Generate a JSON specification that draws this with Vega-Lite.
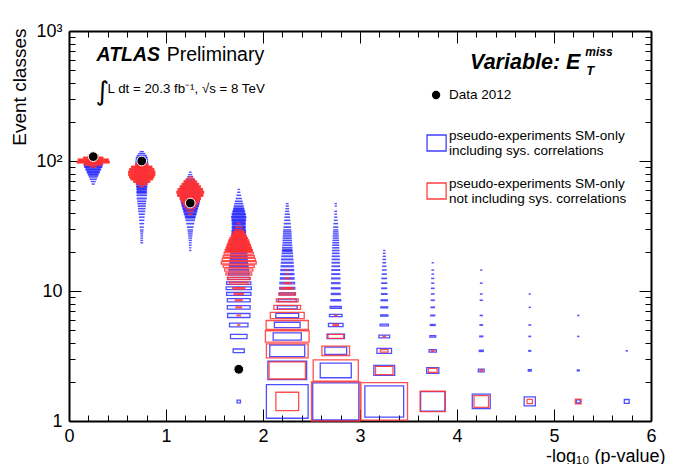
{
"$schema":"https://vega.github.io/schema/vega-lite/v6.json",
"width":582,"height":390,
"autosize":{"type":"none"},
"padding":{"left":69,"top":31,"right":30,"bottom":43},
"background":"white",
"config":{"view":{"stroke":null},"font":"Liberation Sans"},
"datasets":{
"boxes":[
{"s":"incl","x":0.25,"lo":65,"hi":68,"f":0.04},{"s":"incl","x":0.25,"lo":68,"hi":71,"f":0.08},{"s":"incl","x":0.25,"lo":71,"hi":74,"f":0.12},{"s":"incl","x":0.25,"lo":74,"hi":77,"f":0.16},{"s":"incl","x":0.25,"lo":77,"hi":80,"f":0.2},{"s":"incl","x":0.25,"lo":80,"hi":84,"f":0.25},{"s":"incl","x":0.25,"lo":84,"hi":88,"f":0.3},{"s":"incl","x":0.25,"lo":88,"hi":92,"f":0.35},{"s":"incl","x":0.25,"lo":92,"hi":96,"f":0.38},{"s":"incl","x":0.25,"lo":96,"hi":100,"f":0.35},{"s":"incl","x":0.25,"lo":100,"hi":104,"f":0.3},{"s":"incl","x":0.25,"lo":104,"hi":108,"f":0.2},{"s":"incl","x":0.25,"lo":108,"hi":112,"f":0.08},
{"s":"incl","x":0.75,"lo":23,"hi":24,"f":0.03},{"s":"incl","x":0.75,"lo":24,"hi":25,"f":0.03},{"s":"incl","x":0.75,"lo":25,"hi":26,"f":0.03},{"s":"incl","x":0.75,"lo":26,"hi":27,"f":0.03},{"s":"incl","x":0.75,"lo":27,"hi":28,"f":0.03},{"s":"incl","x":0.75,"lo":28,"hi":29,"f":0.04},{"s":"incl","x":0.75,"lo":29,"hi":30,"f":0.05},{"s":"incl","x":0.75,"lo":30,"hi":32,"f":0.06},{"s":"incl","x":0.75,"lo":32,"hi":34,"f":0.07},{"s":"incl","x":0.75,"lo":34,"hi":36,"f":0.08},{"s":"incl","x":0.75,"lo":36,"hi":38,"f":0.09},{"s":"incl","x":0.75,"lo":38,"hi":40,"f":0.1},{"s":"incl","x":0.75,"lo":40,"hi":42,"f":0.12},{"s":"incl","x":0.75,"lo":42,"hi":44,"f":0.13},{"s":"incl","x":0.75,"lo":44,"hi":46,"f":0.14},{"s":"incl","x":0.75,"lo":46,"hi":48,"f":0.15},{"s":"incl","x":0.75,"lo":48,"hi":50,"f":0.16},{"s":"incl","x":0.75,"lo":50,"hi":53,"f":0.18},{"s":"incl","x":0.75,"lo":53,"hi":56,"f":0.19},{"s":"incl","x":0.75,"lo":56,"hi":59,"f":0.2},{"s":"incl","x":0.75,"lo":59,"hi":62,"f":0.2},{"s":"incl","x":0.75,"lo":62,"hi":65,"f":0.21},{"s":"incl","x":0.75,"lo":65,"hi":68,"f":0.22},{"s":"incl","x":0.75,"lo":68,"hi":71,"f":0.23},{"s":"incl","x":0.75,"lo":71,"hi":74,"f":0.24},{"s":"incl","x":0.75,"lo":74,"hi":77,"f":0.25},{"s":"incl","x":0.75,"lo":77,"hi":80,"f":0.25},{"s":"incl","x":0.75,"lo":80,"hi":84,"f":0.25},{"s":"incl","x":0.75,"lo":84,"hi":88,"f":0.25},{"s":"incl","x":0.75,"lo":88,"hi":92,"f":0.25},{"s":"incl","x":0.75,"lo":92,"hi":96,"f":0.25},{"s":"incl","x":0.75,"lo":96,"hi":100,"f":0.24},{"s":"incl","x":0.75,"lo":100,"hi":104,"f":0.23},{"s":"incl","x":0.75,"lo":104,"hi":108,"f":0.22},{"s":"incl","x":0.75,"lo":108,"hi":112,"f":0.18},{"s":"incl","x":0.75,"lo":112,"hi":116,"f":0.12},{"s":"incl","x":0.75,"lo":116,"hi":120,"f":0.06},
{"s":"incl","x":1.25,"lo":20,"hi":21,"f":0.02},{"s":"incl","x":1.25,"lo":21,"hi":22,"f":0.02},{"s":"incl","x":1.25,"lo":22,"hi":23,"f":0.03},{"s":"incl","x":1.25,"lo":23,"hi":24,"f":0.03},{"s":"incl","x":1.25,"lo":24,"hi":25,"f":0.04},{"s":"incl","x":1.25,"lo":25,"hi":26,"f":0.05},{"s":"incl","x":1.25,"lo":26,"hi":27,"f":0.06},{"s":"incl","x":1.25,"lo":27,"hi":28,"f":0.07},{"s":"incl","x":1.25,"lo":28,"hi":29,"f":0.08},{"s":"incl","x":1.25,"lo":29,"hi":30,"f":0.09},{"s":"incl","x":1.25,"lo":30,"hi":32,"f":0.11},{"s":"incl","x":1.25,"lo":32,"hi":34,"f":0.14},{"s":"incl","x":1.25,"lo":34,"hi":36,"f":0.17},{"s":"incl","x":1.25,"lo":36,"hi":38,"f":0.2},{"s":"incl","x":1.25,"lo":38,"hi":40,"f":0.24},{"s":"incl","x":1.25,"lo":40,"hi":42,"f":0.27},{"s":"incl","x":1.25,"lo":42,"hi":44,"f":0.3},{"s":"incl","x":1.25,"lo":44,"hi":46,"f":0.33},{"s":"incl","x":1.25,"lo":46,"hi":48,"f":0.36},{"s":"incl","x":1.25,"lo":48,"hi":50,"f":0.38},{"s":"incl","x":1.25,"lo":50,"hi":53,"f":0.4},{"s":"incl","x":1.25,"lo":53,"hi":56,"f":0.4},{"s":"incl","x":1.25,"lo":56,"hi":59,"f":0.38},{"s":"incl","x":1.25,"lo":59,"hi":62,"f":0.34},{"s":"incl","x":1.25,"lo":62,"hi":65,"f":0.3},{"s":"incl","x":1.25,"lo":65,"hi":68,"f":0.25},{"s":"incl","x":1.25,"lo":68,"hi":71,"f":0.2},{"s":"incl","x":1.25,"lo":71,"hi":74,"f":0.15},{"s":"incl","x":1.25,"lo":74,"hi":77,"f":0.1},{"s":"incl","x":1.25,"lo":77,"hi":80,"f":0.06},{"s":"incl","x":1.25,"lo":80,"hi":84,"f":0.03},
{"s":"incl","x":1.75,"lo":1,"hi":2,"f":0.07},{"s":"incl","x":1.75,"lo":2,"hi":3,"f":0.1},{"s":"incl","x":1.75,"lo":3,"hi":4,"f":0.23},{"s":"incl","x":1.75,"lo":4,"hi":5,"f":0.34},{"s":"incl","x":1.75,"lo":5,"hi":6,"f":0.38},{"s":"incl","x":1.75,"lo":6,"hi":7,"f":0.46},{"s":"incl","x":1.75,"lo":7,"hi":8,"f":0.47},{"s":"incl","x":1.75,"lo":8,"hi":9,"f":0.47},{"s":"incl","x":1.75,"lo":9,"hi":10,"f":0.5},{"s":"incl","x":1.75,"lo":10,"hi":11,"f":0.52},{"s":"incl","x":1.75,"lo":11,"hi":12,"f":0.5},{"s":"incl","x":1.75,"lo":12,"hi":13,"f":0.45},{"s":"incl","x":1.75,"lo":13,"hi":14,"f":0.42},{"s":"incl","x":1.75,"lo":14,"hi":15,"f":0.4},{"s":"incl","x":1.75,"lo":15,"hi":16,"f":0.38},{"s":"incl","x":1.75,"lo":16,"hi":17,"f":0.36},{"s":"incl","x":1.75,"lo":17,"hi":18,"f":0.35},{"s":"incl","x":1.75,"lo":18,"hi":19,"f":0.34},{"s":"incl","x":1.75,"lo":19,"hi":20,"f":0.33},{"s":"incl","x":1.75,"lo":20,"hi":21,"f":0.32},{"s":"incl","x":1.75,"lo":21,"hi":22,"f":0.31},{"s":"incl","x":1.75,"lo":22,"hi":23,"f":0.3},{"s":"incl","x":1.75,"lo":23,"hi":24,"f":0.3},{"s":"incl","x":1.75,"lo":24,"hi":25,"f":0.29},{"s":"incl","x":1.75,"lo":25,"hi":26,"f":0.29},{"s":"incl","x":1.75,"lo":26,"hi":27,"f":0.28},{"s":"incl","x":1.75,"lo":27,"hi":28,"f":0.28},{"s":"incl","x":1.75,"lo":28,"hi":29,"f":0.28},{"s":"incl","x":1.75,"lo":29,"hi":30,"f":0.27},{"s":"incl","x":1.75,"lo":30,"hi":32,"f":0.27},{"s":"incl","x":1.75,"lo":32,"hi":34,"f":0.27},{"s":"incl","x":1.75,"lo":34,"hi":36,"f":0.28},{"s":"incl","x":1.75,"lo":36,"hi":38,"f":0.29},{"s":"incl","x":1.75,"lo":38,"hi":40,"f":0.27},{"s":"incl","x":1.75,"lo":40,"hi":42,"f":0.24},{"s":"incl","x":1.75,"lo":42,"hi":44,"f":0.21},{"s":"incl","x":1.75,"lo":44,"hi":46,"f":0.18},{"s":"incl","x":1.75,"lo":46,"hi":48,"f":0.16},{"s":"incl","x":1.75,"lo":48,"hi":50,"f":0.13},{"s":"incl","x":1.75,"lo":50,"hi":53,"f":0.1},{"s":"incl","x":1.75,"lo":53,"hi":56,"f":0.07},{"s":"incl","x":1.75,"lo":56,"hi":59,"f":0.04},{"s":"incl","x":1.75,"lo":59,"hi":62,"f":0.02},
{"s":"incl","x":2.25,"lo":1,"hi":2,"f":0.86},{"s":"incl","x":2.25,"lo":2,"hi":3,"f":0.8},{"s":"incl","x":2.25,"lo":3,"hi":4,"f":0.72},{"s":"incl","x":2.25,"lo":4,"hi":5,"f":0.58},{"s":"incl","x":2.25,"lo":5,"hi":6,"f":0.53},{"s":"incl","x":2.25,"lo":6,"hi":7,"f":0.47},{"s":"incl","x":2.25,"lo":7,"hi":8,"f":0.41},{"s":"incl","x":2.25,"lo":8,"hi":9,"f":0.37},{"s":"incl","x":2.25,"lo":9,"hi":10,"f":0.33},{"s":"incl","x":2.25,"lo":10,"hi":11,"f":0.31},{"s":"incl","x":2.25,"lo":11,"hi":12,"f":0.3},{"s":"incl","x":2.25,"lo":12,"hi":13,"f":0.28},{"s":"incl","x":2.25,"lo":13,"hi":14,"f":0.27},{"s":"incl","x":2.25,"lo":14,"hi":15,"f":0.26},{"s":"incl","x":2.25,"lo":15,"hi":16,"f":0.25},{"s":"incl","x":2.25,"lo":16,"hi":17,"f":0.24},{"s":"incl","x":2.25,"lo":17,"hi":18,"f":0.23},{"s":"incl","x":2.25,"lo":18,"hi":19,"f":0.22},{"s":"incl","x":2.25,"lo":19,"hi":20,"f":0.21},{"s":"incl","x":2.25,"lo":20,"hi":21,"f":0.2},{"s":"incl","x":2.25,"lo":21,"hi":22,"f":0.19},{"s":"incl","x":2.25,"lo":22,"hi":23,"f":0.18},{"s":"incl","x":2.25,"lo":23,"hi":24,"f":0.17},{"s":"incl","x":2.25,"lo":24,"hi":25,"f":0.17},{"s":"incl","x":2.25,"lo":25,"hi":26,"f":0.16},{"s":"incl","x":2.25,"lo":26,"hi":27,"f":0.16},{"s":"incl","x":2.25,"lo":27,"hi":28,"f":0.15},{"s":"incl","x":2.25,"lo":28,"hi":29,"f":0.15},{"s":"incl","x":2.25,"lo":29,"hi":30,"f":0.14},{"s":"incl","x":2.25,"lo":30,"hi":32,"f":0.13},{"s":"incl","x":2.25,"lo":32,"hi":34,"f":0.12},{"s":"incl","x":2.25,"lo":34,"hi":36,"f":0.1},{"s":"incl","x":2.25,"lo":36,"hi":38,"f":0.09},{"s":"incl","x":2.25,"lo":38,"hi":40,"f":0.08},{"s":"incl","x":2.25,"lo":40,"hi":42,"f":0.06},{"s":"incl","x":2.25,"lo":42,"hi":44,"f":0.05},{"s":"incl","x":2.25,"lo":44,"hi":46,"f":0.04},{"s":"incl","x":2.25,"lo":46,"hi":48,"f":0.03},
{"s":"incl","x":2.75,"lo":1,"hi":2,"f":0.95},{"s":"incl","x":2.75,"lo":2,"hi":3,"f":0.64},{"s":"incl","x":2.75,"lo":3,"hi":4,"f":0.45},{"s":"incl","x":2.75,"lo":4,"hi":5,"f":0.36},{"s":"incl","x":2.75,"lo":5,"hi":6,"f":0.3},{"s":"incl","x":2.75,"lo":6,"hi":7,"f":0.26},{"s":"incl","x":2.75,"lo":7,"hi":8,"f":0.23},{"s":"incl","x":2.75,"lo":8,"hi":9,"f":0.2},{"s":"incl","x":2.75,"lo":9,"hi":10,"f":0.18},{"s":"incl","x":2.75,"lo":10,"hi":11,"f":0.18},{"s":"incl","x":2.75,"lo":11,"hi":12,"f":0.17},{"s":"incl","x":2.75,"lo":12,"hi":13,"f":0.17},{"s":"incl","x":2.75,"lo":13,"hi":14,"f":0.16},{"s":"incl","x":2.75,"lo":14,"hi":15,"f":0.16},{"s":"incl","x":2.75,"lo":15,"hi":16,"f":0.15},{"s":"incl","x":2.75,"lo":16,"hi":17,"f":0.15},{"s":"incl","x":2.75,"lo":17,"hi":18,"f":0.14},{"s":"incl","x":2.75,"lo":18,"hi":19,"f":0.14},{"s":"incl","x":2.75,"lo":19,"hi":20,"f":0.13},{"s":"incl","x":2.75,"lo":20,"hi":21,"f":0.13},{"s":"incl","x":2.75,"lo":21,"hi":22,"f":0.12},{"s":"incl","x":2.75,"lo":22,"hi":23,"f":0.12},{"s":"incl","x":2.75,"lo":23,"hi":24,"f":0.11},{"s":"incl","x":2.75,"lo":24,"hi":25,"f":0.11},{"s":"incl","x":2.75,"lo":25,"hi":26,"f":0.1},{"s":"incl","x":2.75,"lo":26,"hi":27,"f":0.1},{"s":"incl","x":2.75,"lo":27,"hi":28,"f":0.09},{"s":"incl","x":2.75,"lo":28,"hi":29,"f":0.09},{"s":"incl","x":2.75,"lo":29,"hi":30,"f":0.08},{"s":"incl","x":2.75,"lo":30,"hi":32,"f":0.08},{"s":"incl","x":2.75,"lo":32,"hi":34,"f":0.07},{"s":"incl","x":2.75,"lo":34,"hi":36,"f":0.05},{"s":"incl","x":2.75,"lo":36,"hi":38,"f":0.04},{"s":"incl","x":2.75,"lo":38,"hi":40,"f":0.03},{"s":"incl","x":2.75,"lo":40,"hi":42,"f":0.03},{"s":"incl","x":2.75,"lo":44,"hi":46,"f":0.02},{"s":"incl","x":2.75,"lo":46,"hi":48,"f":0.02},
{"s":"incl","x":3.25,"lo":1,"hi":2,"f":0.8},{"s":"incl","x":3.25,"lo":2,"hi":3,"f":0.43},{"s":"incl","x":3.25,"lo":3,"hi":4,"f":0.3},{"s":"incl","x":3.25,"lo":4,"hi":5,"f":0.22},{"s":"incl","x":3.25,"lo":5,"hi":6,"f":0.17},{"s":"incl","x":3.25,"lo":6,"hi":7,"f":0.15},{"s":"incl","x":3.25,"lo":7,"hi":8,"f":0.14},{"s":"incl","x":3.25,"lo":8,"hi":9,"f":0.13},{"s":"incl","x":3.25,"lo":9,"hi":10,"f":0.11},{"s":"incl","x":3.25,"lo":10,"hi":11,"f":0.1},{"s":"incl","x":3.25,"lo":11,"hi":12,"f":0.1},{"s":"incl","x":3.25,"lo":12,"hi":13,"f":0.09},{"s":"incl","x":3.25,"lo":13,"hi":14,"f":0.08},{"s":"incl","x":3.25,"lo":14,"hi":15,"f":0.07},{"s":"incl","x":3.25,"lo":15,"hi":16,"f":0.06},{"s":"incl","x":3.25,"lo":16,"hi":17,"f":0.05},{"s":"incl","x":3.25,"lo":17,"hi":18,"f":0.05},{"s":"incl","x":3.25,"lo":18,"hi":19,"f":0.04},{"s":"incl","x":3.25,"lo":19,"hi":20,"f":0.03},{"s":"incl","x":3.25,"lo":20,"hi":21,"f":0.02},
{"s":"incl","x":3.75,"lo":1,"hi":2,"f":0.5},{"s":"incl","x":3.75,"lo":2,"hi":3,"f":0.25},{"s":"incl","x":3.75,"lo":3,"hi":4,"f":0.15},{"s":"incl","x":3.75,"lo":4,"hi":5,"f":0.12},{"s":"incl","x":3.75,"lo":5,"hi":6,"f":0.1},{"s":"incl","x":3.75,"lo":6,"hi":7,"f":0.08},{"s":"incl","x":3.75,"lo":7,"hi":8,"f":0.07},{"s":"incl","x":3.75,"lo":8,"hi":9,"f":0.06},{"s":"incl","x":3.75,"lo":9,"hi":10,"f":0.05},{"s":"incl","x":3.75,"lo":10,"hi":11,"f":0.05},{"s":"incl","x":3.75,"lo":11,"hi":12,"f":0.04},{"s":"incl","x":3.75,"lo":12,"hi":13,"f":0.04},{"s":"incl","x":3.75,"lo":13,"hi":14,"f":0.03},{"s":"incl","x":3.75,"lo":14,"hi":15,"f":0.03},{"s":"incl","x":3.75,"lo":16,"hi":17,"f":0.02},
{"s":"incl","x":4.25,"lo":1,"hi":2,"f":0.37},{"s":"incl","x":4.25,"lo":2,"hi":3,"f":0.12},{"s":"incl","x":4.25,"lo":3,"hi":4,"f":0.08},{"s":"incl","x":4.25,"lo":4,"hi":5,"f":0.06},{"s":"incl","x":4.25,"lo":5,"hi":6,"f":0.05},{"s":"incl","x":4.25,"lo":6,"hi":7,"f":0.04},{"s":"incl","x":4.25,"lo":8,"hi":9,"f":0.04},{"s":"incl","x":4.25,"lo":9,"hi":10,"f":0.03},{"s":"incl","x":4.25,"lo":11,"hi":12,"f":0.03},{"s":"incl","x":4.25,"lo":14,"hi":15,"f":0.02},
{"s":"incl","x":4.75,"lo":1,"hi":2,"f":0.23},{"s":"incl","x":4.75,"lo":2,"hi":3,"f":0.06},{"s":"incl","x":4.75,"lo":3,"hi":4,"f":0.04},{"s":"incl","x":4.75,"lo":4,"hi":5,"f":0.03},{"s":"incl","x":4.75,"lo":5,"hi":6,"f":0.03},{"s":"incl","x":4.75,"lo":7,"hi":8,"f":0.02},{"s":"incl","x":4.75,"lo":9,"hi":10,"f":0.02},
{"s":"incl","x":5.25,"lo":1,"hi":2,"f":0.08},{"s":"incl","x":5.25,"lo":2,"hi":3,"f":0.04},{"s":"incl","x":5.25,"lo":4,"hi":5,"f":0.02},{"s":"incl","x":5.25,"lo":6,"hi":7,"f":0.02},
{"s":"incl","x":5.75,"lo":1,"hi":2,"f":0.1},{"s":"incl","x":5.75,"lo":3,"hi":4,"f":0.02},
{"s":"excl","x":0.25,"lo":88,"hi":92,"f":0.12},{"s":"excl","x":0.25,"lo":92,"hi":96,"f":0.35},{"s":"excl","x":0.25,"lo":96,"hi":100,"f":0.66},{"s":"excl","x":0.25,"lo":100,"hi":104,"f":0.62},{"s":"excl","x":0.25,"lo":104,"hi":108,"f":0.4},{"s":"excl","x":0.25,"lo":108,"hi":112,"f":0.2},{"s":"excl","x":0.25,"lo":112,"hi":116,"f":0.06},
{"s":"excl","x":0.75,"lo":62,"hi":65,"f":0.08},{"s":"excl","x":0.75,"lo":65,"hi":68,"f":0.2},{"s":"excl","x":0.75,"lo":68,"hi":71,"f":0.34},{"s":"excl","x":0.75,"lo":71,"hi":74,"f":0.45},{"s":"excl","x":0.75,"lo":74,"hi":77,"f":0.5},{"s":"excl","x":0.75,"lo":77,"hi":80,"f":0.54},{"s":"excl","x":0.75,"lo":80,"hi":84,"f":0.54},{"s":"excl","x":0.75,"lo":84,"hi":88,"f":0.5},{"s":"excl","x":0.75,"lo":88,"hi":92,"f":0.42},{"s":"excl","x":0.75,"lo":92,"hi":96,"f":0.25},{"s":"excl","x":0.75,"lo":96,"hi":100,"f":0.08},
{"s":"excl","x":1.25,"lo":38,"hi":40,"f":0.07},{"s":"excl","x":1.25,"lo":40,"hi":42,"f":0.12},{"s":"excl","x":1.25,"lo":42,"hi":44,"f":0.17},{"s":"excl","x":1.25,"lo":44,"hi":46,"f":0.24},{"s":"excl","x":1.25,"lo":46,"hi":48,"f":0.3},{"s":"excl","x":1.25,"lo":48,"hi":50,"f":0.36},{"s":"excl","x":1.25,"lo":50,"hi":53,"f":0.42},{"s":"excl","x":1.25,"lo":53,"hi":56,"f":0.52},{"s":"excl","x":1.25,"lo":56,"hi":59,"f":0.55},{"s":"excl","x":1.25,"lo":59,"hi":62,"f":0.5},{"s":"excl","x":1.25,"lo":62,"hi":65,"f":0.42},{"s":"excl","x":1.25,"lo":65,"hi":68,"f":0.34},{"s":"excl","x":1.25,"lo":68,"hi":71,"f":0.26},{"s":"excl","x":1.25,"lo":71,"hi":74,"f":0.17},{"s":"excl","x":1.25,"lo":74,"hi":77,"f":0.08},
{"s":"excl","x":1.75,"lo":5,"hi":6,"f":0.04},{"s":"excl","x":1.75,"lo":6,"hi":7,"f":0.07},{"s":"excl","x":1.75,"lo":7,"hi":8,"f":0.11},{"s":"excl","x":1.75,"lo":8,"hi":9,"f":0.14},{"s":"excl","x":1.75,"lo":9,"hi":10,"f":0.19},{"s":"excl","x":1.75,"lo":10,"hi":11,"f":0.25},{"s":"excl","x":1.75,"lo":11,"hi":12,"f":0.38},{"s":"excl","x":1.75,"lo":12,"hi":13,"f":0.47},{"s":"excl","x":1.75,"lo":13,"hi":14,"f":0.53},{"s":"excl","x":1.75,"lo":14,"hi":15,"f":0.58},{"s":"excl","x":1.75,"lo":15,"hi":16,"f":0.64},{"s":"excl","x":1.75,"lo":16,"hi":17,"f":0.72},{"s":"excl","x":1.75,"lo":17,"hi":18,"f":0.68},{"s":"excl","x":1.75,"lo":18,"hi":19,"f":0.64},{"s":"excl","x":1.75,"lo":19,"hi":20,"f":0.6},{"s":"excl","x":1.75,"lo":20,"hi":21,"f":0.56},{"s":"excl","x":1.75,"lo":21,"hi":22,"f":0.52},{"s":"excl","x":1.75,"lo":22,"hi":23,"f":0.48},{"s":"excl","x":1.75,"lo":23,"hi":24,"f":0.44},{"s":"excl","x":1.75,"lo":24,"hi":25,"f":0.41},{"s":"excl","x":1.75,"lo":25,"hi":26,"f":0.36},{"s":"excl","x":1.75,"lo":26,"hi":27,"f":0.31},{"s":"excl","x":1.75,"lo":27,"hi":28,"f":0.26},{"s":"excl","x":1.75,"lo":28,"hi":29,"f":0.22},{"s":"excl","x":1.75,"lo":29,"hi":30,"f":0.17},{"s":"excl","x":1.75,"lo":30,"hi":32,"f":0.12},{"s":"excl","x":1.75,"lo":32,"hi":34,"f":0.06},
{"s":"excl","x":2.25,"lo":1,"hi":2,"f":0.47},{"s":"excl","x":2.25,"lo":2,"hi":3,"f":0.75},{"s":"excl","x":2.25,"lo":3,"hi":4,"f":0.86},{"s":"excl","x":2.25,"lo":4,"hi":5,"f":0.9},{"s":"excl","x":2.25,"lo":5,"hi":6,"f":0.87},{"s":"excl","x":2.25,"lo":6,"hi":7,"f":0.7},{"s":"excl","x":2.25,"lo":7,"hi":8,"f":0.55},{"s":"excl","x":2.25,"lo":8,"hi":9,"f":0.45},{"s":"excl","x":2.25,"lo":9,"hi":10,"f":0.34},{"s":"excl","x":2.25,"lo":10,"hi":11,"f":0.25},{"s":"excl","x":2.25,"lo":11,"hi":12,"f":0.15},{"s":"excl","x":2.25,"lo":12,"hi":13,"f":0.1},{"s":"excl","x":2.25,"lo":13,"hi":14,"f":0.05},{"s":"excl","x":2.25,"lo":14,"hi":15,"f":0.04},
{"s":"excl","x":2.75,"lo":1,"hi":2,"f":1.0},{"s":"excl","x":2.75,"lo":2,"hi":3,"f":0.93},{"s":"excl","x":2.75,"lo":3,"hi":4,"f":0.57},{"s":"excl","x":2.75,"lo":4,"hi":5,"f":0.32},{"s":"excl","x":2.75,"lo":5,"hi":6,"f":0.11},{"s":"excl","x":2.75,"lo":6,"hi":7,"f":0.05},
{"s":"excl","x":3.25,"lo":1,"hi":2,"f":0.96},{"s":"excl","x":3.25,"lo":2,"hi":3,"f":0.36},{"s":"excl","x":3.25,"lo":3,"hi":4,"f":0.16},{"s":"excl","x":3.25,"lo":4,"hi":5,"f":0.05},
{"s":"excl","x":3.75,"lo":1,"hi":2,"f":0.52},{"s":"excl","x":3.75,"lo":2,"hi":3,"f":0.18},{"s":"excl","x":3.75,"lo":3,"hi":4,"f":0.05},
{"s":"excl","x":4.25,"lo":1,"hi":2,"f":0.3},{"s":"excl","x":4.25,"lo":2,"hi":3,"f":0.05},
{"s":"excl","x":4.75,"lo":1,"hi":2,"f":0.11},
{"s":"excl","x":5.25,"lo":1,"hi":2,"f":0.12}
],
"obs":[{"x":0.25,"y":108},{"x":0.75,"y":100},{"x":1.25,"y":47.5},{"x":1.75,"y":2.5}]
},
"resolve":{"axis":{"x":"independent","y":"independent"}},
"layer":[
{
"data":{"name":"boxes"},
"transform":[
{"filter":"datum.s == 'incl' && datum.lo >= 20 && datum.f >= 0.2"},
{"calculate":"datum.x - 0.25*datum.f","as":"x1"},
{"calculate":"datum.x + 0.25*datum.f","as":"x2"}
],
"mark":{"type":"rect","opacity":0.9,"color":"#3030ff"},
"encoding":{
"x":{"field":"x1","type":"quantitative","scale":{"domain":[0,6],"nice":false,"zero":false},
"axis":{"orient":"bottom","values":[0,1,2,3,4,5,6],"format":"d","ticks":false,
"domainColor":"black","domainWidth":2,"grid":false,
"labelFont":"Liberation Sans","labelFontSize":18,"labelColor":"black","labelPadding":6,"labelFlush":false,"labelOverlap":false,"labelBound":false,
"title":"-log₁₀ (p-value)","titleFont":"Liberation Sans","titleFontSize":18,"titleFontWeight":"normal","titleColor":"black","titleX":596,"titleY":40,"titleAlign":"right","titleBaseline":"alphabetic"}},
"x2":{"field":"x2"},
"y":{"field":"lo","type":"quantitative","scale":{"type":"log","domain":[1,1000],"nice":false},
"axis":{"orient":"left","values":[1,10,100,1000],
"labelExpr":"datum.value==1000?'10³':datum.value==100?'10²':datum.value==10?'10':'1'",
"ticks":false,"domainColor":"black","domainWidth":2,"grid":false,
"labelFont":"Liberation Sans","labelFontSize":18,"labelColor":"black","labelPadding":7,"labelFlush":false,"labelOverlap":false,"labelBound":false,
"title":"Event classes","titleFont":"Liberation Sans","titleFontSize":19,"titleFontWeight":"normal","titleColor":"black","titleX":-50,"titleY":-3,"titleAlign":"right","titleBaseline":"middle","titleAngle":270}},
"y2":{"field":"hi"}
}
},
{
"data":{"name":"boxes"},
"transform":[
{"calculate":"datum.x - 0.25*datum.f","as":"x1"},
{"calculate":"datum.x + 0.25*datum.f","as":"x2"},
{"calculate":"exp((log(datum.lo)+log(datum.hi))/2 - datum.f*(log(datum.hi)-log(datum.lo))/2)","as":"y1"},
{"calculate":"exp((log(datum.lo)+log(datum.hi))/2 + datum.f*(log(datum.hi)-log(datum.lo))/2)","as":"y2"}
],
"mark":{"type":"rect","filled":false,"strokeWidth":1.3,"strokeOpacity":0.85},
"encoding":{
"x":{"field":"x1","type":"quantitative","axis":{"orient":"top","labels":false,"ticks":false,"title":null,"domainColor":"black","domainWidth":2,"grid":false}},
"x2":{"field":"x2"},
"y":{"field":"y1","type":"quantitative","axis":{"orient":"right","labels":false,"ticks":false,"title":null,"domainColor":"black","domainWidth":2,"grid":false}},
"y2":{"field":"y2"},
"color":{"field":"s","type":"nominal","scale":{"domain":["incl","excl"],"range":["#3030ff","#ff3030"]},"legend":null}
}
},
{
"data":{"name":"boxes"},
"transform":[
{"filter":"datum.s == 'excl' && datum.lo >= 20 && datum.f >= 0.2"},
{"calculate":"datum.x - 0.25*datum.f","as":"x1"},
{"calculate":"datum.x + 0.25*datum.f","as":"x2"}
],
"mark":{"type":"rect","opacity":0.95,"color":"#ff3030"},
"encoding":{
"x":{"field":"x1","type":"quantitative","axis":{"orient":"bottom","values":[0,1,2,3,4,5,6],"offset":-12,"tickSize":12,"domain":false,"labels":false,"title":null,"tickColor":"black","tickWidth":1,"grid":false}},
"x2":{"field":"x2"},
"y":{"field":"lo","type":"quantitative","axis":{"orient":"left","values":[1,10,100,1000],"offset":-12,"tickSize":12,"domain":false,"labels":false,"title":null,"tickColor":"black","tickWidth":1,"grid":false}},
"y2":{"field":"hi"}
}
},
{
"data":{"name":"obs"},
"mark":{"type":"point","filled":true,"color":"black","size":95,"stroke":"white","strokeWidth":1,"opacity":1},
"encoding":{
"x":{"field":"x","type":"quantitative",
"axis":{"orient":"top","values":[0,1,2,3,4,5,6],"offset":-12,"tickSize":12,"domain":false,"labels":false,"title":null,"tickColor":"black","tickWidth":1,"grid":false}},
"y":{"field":"y","type":"quantitative",
"axis":{"orient":"right","values":[1,10,100,1000],"offset":-12,"tickSize":12,"domain":false,"labels":false,"title":null,"tickColor":"black","tickWidth":1,"grid":false}}
}
},
{"data":{"values":[{}]},
"mark":{"type":"text","text":"ATLAS","font":"Liberation Sans","fontSize":19.5,"fontStyle":"italic","fontWeight":"bold","align":"left","baseline":"alphabetic","color":"black"},
"encoding":{"x":{"datum":0.284,"type":"quantitative","axis":{"orient":"bottom","values":[0.2,0.4,0.6,0.8,1.2,1.4,1.6,1.8,2.2,2.4,2.6,2.8,3.2,3.4,3.6,3.8,4.2,4.4,4.6,4.8,5.2,5.4,5.6,5.8],"offset":-6,"tickSize":6,"labels":false,"title":null,"domain":false,"tickColor":"black","tickWidth":1,"grid":false}},
"y":{"datum":588,"type":"quantitative","axis":{"orient":"left","values":[2,3,4,5,6,7,8,9,20,30,40,50,60,70,80,90,200,300,400,500,600,700,800,900],"offset":-6,"tickSize":6,"labels":false,"title":null,"domain":false,"tickColor":"black","tickWidth":1,"grid":false}}}},
{"data":{"values":[{}]},
"mark":{"type":"text","text":"Preliminary","font":"Liberation Sans","fontSize":19.5,"align":"left","baseline":"alphabetic","color":"black"},
"encoding":{"x":{"datum":1.007,"type":"quantitative","axis":{"orient":"top","values":[0.2,0.4,0.6,0.8,1.2,1.4,1.6,1.8,2.2,2.4,2.6,2.8,3.2,3.4,3.6,3.8,4.2,4.4,4.6,4.8,5.2,5.4,5.6,5.8],"offset":-6,"tickSize":6,"labels":false,"title":null,"domain":false,"tickColor":"black","tickWidth":1,"grid":false}},
"y":{"datum":588,"type":"quantitative","axis":{"orient":"right","values":[2,3,4,5,6,7,8,9,20,30,40,50,60,70,80,90,200,300,400,500,600,700,800,900],"offset":-6,"tickSize":6,"labels":false,"title":null,"domain":false,"tickColor":"black","tickWidth":1,"grid":false}}}},
{"data":{"values":[{}]},
"mark":{"type":"text","text":"∫","font":"DejaVu Sans","fontSize":26,"align":"left","baseline":"alphabetic","color":"black"},
"encoding":{"x":{"datum":0.274,"type":"quantitative","axis":null},"y":{"datum":295,"type":"quantitative","axis":null}}},
{"data":{"values":[{}]},
"mark":{"type":"text","text":"L dt = 20.3 fb⁻¹, √s = 8 TeV","font":"Liberation Sans","fontSize":13.3,"align":"left","baseline":"alphabetic","color":"black"},
"encoding":{"x":{"datum":0.398,"type":"quantitative","axis":null},"y":{"datum":334,"type":"quantitative","axis":null}}},
{"data":{"values":[{}]},
"mark":{"type":"text","text":"Variable: E","font":"Liberation Sans","fontSize":21.5,"fontStyle":"italic","fontWeight":"bold","align":"left","baseline":"alphabetic","color":"black"},
"encoding":{"x":{"datum":4.135,"type":"quantitative","axis":null},"y":{"datum":510,"type":"quantitative","axis":null}}},
{"data":{"values":[{}]},
"mark":{"type":"text","text":"miss","font":"Liberation Sans","fontSize":12,"fontStyle":"italic","fontWeight":"bold","align":"left","baseline":"alphabetic","color":"black"},
"encoding":{"x":{"datum":5.323,"type":"quantitative","axis":null},"y":{"datum":642,"type":"quantitative","axis":null}}},
{"data":{"values":[{}]},
"mark":{"type":"text","text":"T","font":"Liberation Sans","fontSize":13,"fontStyle":"italic","fontWeight":"bold","align":"left","baseline":"alphabetic","color":"black"},
"encoding":{"x":{"datum":5.333,"type":"quantitative","axis":null},"y":{"datum":459,"type":"quantitative","axis":null}}},
{"data":{"values":[{}]},
"mark":{"type":"point","filled":true,"color":"black","size":70,"opacity":1},
"encoding":{"x":{"datum":3.784,"type":"quantitative","axis":null},"y":{"datum":322,"type":"quantitative","axis":null}}},
{"data":{"values":[{}]},
"mark":{"type":"text","text":"Data 2012","font":"Liberation Sans","fontSize":13.5,"align":"left","baseline":"middle","color":"black"},
"encoding":{"x":{"datum":3.918,"type":"quantitative","axis":null},"y":{"datum":322,"type":"quantitative","axis":null}}},
{"data":{"values":[{}]},
"mark":{"type":"rect","filled":false,"stroke":"#4040ff","strokeWidth":1.3},
"encoding":{"x":{"datum":3.691,"type":"quantitative","axis":null},"x2":{"datum":3.888},"y":{"datum":158.5,"type":"quantitative","axis":null},"y2":{"datum":119.4}}},
{"data":{"values":[{}]},
"mark":{"type":"rect","filled":false,"stroke":"#ff4040","strokeWidth":1.3},
"encoding":{"x":{"datum":3.691,"type":"quantitative","axis":null},"x2":{"datum":3.888},"y":{"datum":67.7,"type":"quantitative","axis":null},"y2":{"datum":51.0}}},
{"data":{"values":[{}]},
"mark":{"type":"text","text":"pseudo-experiments SM-only","font":"Liberation Sans","fontSize":13.5,"align":"left","baseline":"middle","color":"black"},
"encoding":{"x":{"datum":3.918,"type":"quantitative","axis":null},"y":{"datum":155.7,"type":"quantitative","axis":null}}},
{"data":{"values":[{}]},
"mark":{"type":"text","text":"including sys. correlations","font":"Liberation Sans","fontSize":13.5,"align":"left","baseline":"middle","color":"black"},
"encoding":{"x":{"datum":3.918,"type":"quantitative","axis":null},"y":{"datum":119.4,"type":"quantitative","axis":null}}},
{"data":{"values":[{}]},
"mark":{"type":"text","text":"pseudo-experiments SM-only","font":"Liberation Sans","fontSize":13.5,"align":"left","baseline":"middle","color":"black"},
"encoding":{"x":{"datum":3.918,"type":"quantitative","axis":null},"y":{"datum":66.5,"type":"quantitative","axis":null}}},
{"data":{"values":[{}]},
"mark":{"type":"text","text":"not including sys. correlations","font":"Liberation Sans","fontSize":13.5,"align":"left","baseline":"middle","color":"black"},
"encoding":{"x":{"datum":3.918,"type":"quantitative","axis":null},"y":{"datum":51.0,"type":"quantitative","axis":null}}}
]
}
